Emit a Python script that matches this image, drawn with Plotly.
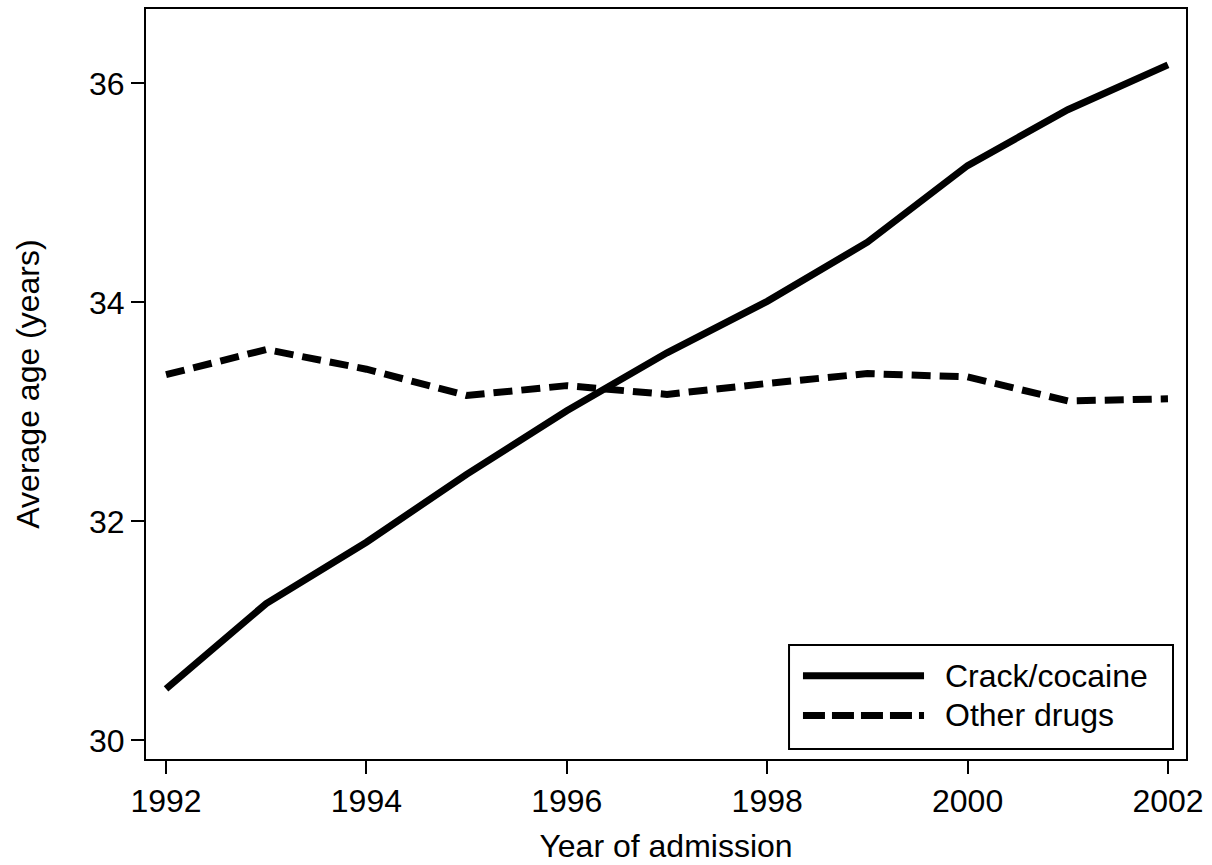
import plotly.graph_objects as go

# Average age at treatment admission, by year and primary drug
years = [1992, 1993, 1994, 1995, 1996, 1997, 1998, 1999, 2000, 2001, 2002]
crack_cocaine = [30.47, 31.25, 31.81, 32.43, 33.01, 33.54, 34.01, 34.55, 35.25, 35.76, 36.17]
other_drugs = [33.34, 33.57, 33.39, 33.15, 33.24, 33.16, 33.26, 33.35, 33.32, 33.10, 33.12]

series_names = ["Crack/cocaine", "Other drugs"]
series_dash = ["solid", "19px,9px"]
legend_dash = ["solid", "22px,7px"]

x_ticks = [1992, 1994, 1996, 1998, 2000, 2002]
y_ticks = [30, 32, 34, 36]

FONT = "Liberation Sans, Arial, sans-serif"
FS = 32

fig = go.Figure()
for name, ys, dash in zip(series_names, [crack_cocaine, other_drugs], series_dash):
    fig.add_trace(go.Scatter(
        x=years, y=ys, mode="lines", name=name,
        line=dict(color="black", width=7, dash=dash),
    ))

axis_common = dict(
    showgrid=False, zeroline=False,
    showline=True, linecolor="black", linewidth=2, mirror=True,
    ticks="outside", ticklen=13, tickwidth=2, tickcolor="black",
    tickfont=dict(family=FONT, size=FS, color="black"),
)

fig.update_xaxes(
    range=[1991.8, 2002.18], tickvals=x_ticks,
    title=dict(text="Year of admission", font=dict(family=FONT, size=FS, color="black"), standoff=16),
    **axis_common,
)
fig.update_yaxes(
    range=[29.83, 36.68], tickvals=y_ticks,
    title=dict(text="Average age (years)", font=dict(family=FONT, size=FS, color="black"), standoff=40),
    **axis_common,
)

# Boxed key in the lower-right corner of the plotting area
box = dict(x0=0.6183, x1=0.9875, y0=0.0132, y1=0.1519)
row_y = [0.1110, 0.0581]
sample_x = (0.6317, 0.7481)
label_x = 0.7663

fig.add_shape(type="rect", xref="paper", yref="paper",
              line=dict(color="black", width=2), fillcolor="white", **box)
for name, dash, yy in zip(series_names, legend_dash, row_y):
    fig.add_shape(type="line", xref="paper", yref="paper",
                  x0=sample_x[0], x1=sample_x[1], y0=yy, y1=yy,
                  line=dict(color="black", width=7, dash=dash))
    fig.add_annotation(xref="paper", yref="paper", x=label_x, y=yy,
                       text=name, showarrow=False, xanchor="left", yanchor="middle",
                       font=dict(family=FONT, size=FS, color="black"))

fig.update_layout(
    width=1212, height=865,
    margin=dict(l=146, r=26, t=7, b=101),
    paper_bgcolor="white", plot_bgcolor="white",
    font=dict(family=FONT, size=FS, color="black"),
    showlegend=False,
)

fig.write_html("out.html")
